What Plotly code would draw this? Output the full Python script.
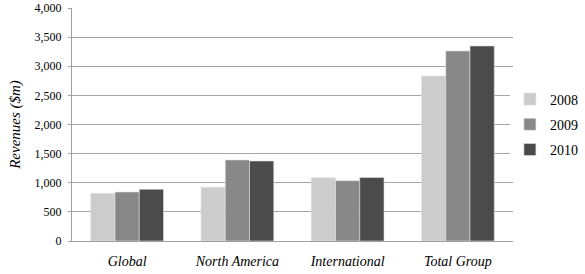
import plotly.graph_objects as go

categories = ["Global", "North America", "International", "Total Group"]
years = ["2008", "2009", "2010"]
rev_2008 = [819, 922, 1087, 2833]
rev_2009 = [841, 1391, 1035, 3262]
rev_2010 = [887, 1373, 1090, 3348]
tick_vals = [0, 500, 1000, 1500, 2000, 2500, 3000, 3500, 4000]
tick_text = ["0", "500", "1,000", "1,500", "2,000", "2,500", "3,000", "3,500", "4,000"]

colors = ["#cccccc", "#888888", "#4b4b4b"]
series = [rev_2008, rev_2009, rev_2010]
FONT = "Liberation Serif"

fig = go.Figure()
for name, vals, c in zip(years, series, colors):
    fig.add_trace(go.Bar(
        x=categories, y=vals, name=name, legendgroup=name,
        marker=dict(color=c, line=dict(color="#e0e0e0", width=0.6)),
    ))

fig.update_layout(
    width=585, height=274,
    margin=dict(l=72, r=72, t=8, b=33, autoexpand=False),
    barmode="group", bargap=0.34, bargroupgap=0,
    plot_bgcolor="white", paper_bgcolor="white",
    font=dict(family=FONT, color="#000000", size=11),
    legend=dict(
        x=0.993, y=0.5, xanchor="left", yanchor="middle",
        font=dict(size=14, family=FONT),
        itemwidth=30, tracegroupgap=4,
    ),
    showlegend=True,
)
fig.update_xaxes(
    showgrid=False, showline=True, linecolor="#a0a0a0", linewidth=1,
    tickfont=dict(size=14, family=FONT),
    ticks="", ticklabelstandoff=7, automargin=False,
    tickvals=categories, ticktext=["<i>%s</i>" % c for c in categories],
)
fig.update_yaxes(
    range=[0, 4000], tickvals=tick_vals, ticktext=tick_text,
    showgrid=True, gridcolor="#a6a6a6", gridwidth=1,
    showline=True, linecolor="#a0a0a0", linewidth=1,
    ticks="outside", ticklen=3, tickcolor="#a0a0a0",
    tickfont=dict(size=12, family=FONT), ticklabelstandoff=4,
    title=dict(text="<i>Revenues ($m)</i>", font=dict(size=15, family=FONT), standoff=10),
    zeroline=False, automargin=False,
)

fig.write_html("out.html")
